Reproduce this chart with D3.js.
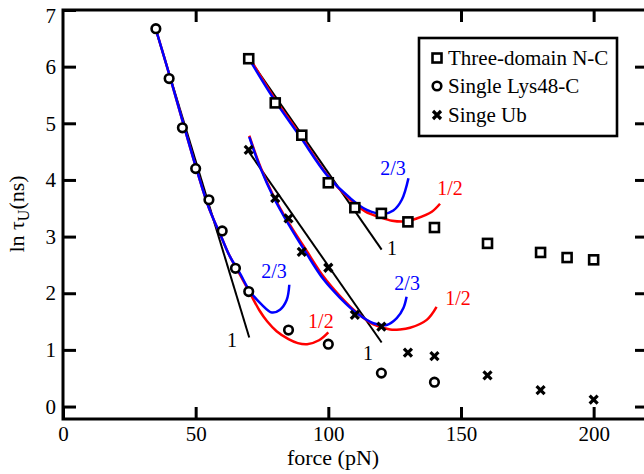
<!DOCTYPE html>
<html>
<head>
<meta charset="utf-8">
<script src="https://cdn.jsdelivr.net/npm/d3@7"></script>
<style>
    body { margin: 0; background: #fff; }
    svg { display: block; }
    svg text { font-family: "Liberation Serif", "Times New Roman", serif; }
</style>
</head>
<body>
<svg id="chart" width="644" height="474"></svg>
<script>
// measured points
var threeDomain = [[70, 6.14], [80, 5.36], [90, 4.79], [100, 3.95], [110, 3.51], [120, 3.41],
    [130, 3.26], [140, 3.16], [160, 2.88], [180, 2.72], [190, 2.63], [200, 2.59]];
var singleLys = [[35, 6.67], [40, 5.79], [45, 4.92], [50, 4.2], [55, 3.65], [60, 3.1],
    [65, 2.44], [70, 2.03], [85, 1.35], [100, 1.1], [120, 0.59], [140, 0.43]];
var singeUb = [[70, 4.53], [80, 3.68], [85, 3.32], [90, 2.73], [100, 2.45], [110, 1.62],
    [120, 1.41], [130, 0.95], [140, 0.89], [160, 0.55], [180, 0.29], [200, 0.12]];

// fitted curves
var lysFit1 = [[35, 6.65], [70.2, 1.22]];
var lysFit23 = [[35, 6.66], [40, 5.87], [45, 5.05], [50.4, 4.18], [54.8, 3.53], [59.8, 2.98],
    [62.9, 2.65], [66.7, 2.35], [70.5, 2.03], [74.9, 1.8], [78.7, 1.66], [81.8, 1.71],
    [84.3, 1.88], [85.3, 2.15]];
var lysFit12 = [[35, 6.66], [40, 5.87], [45, 5.05], [50.4, 4.18], [54.8, 3.53], [59.8, 2.98],
    [62.9, 2.65], [66.7, 2.33], [70.5, 2.0], [74, 1.7], [77, 1.5], [80.5, 1.33], [85, 1.19],
    [88.5, 1.12], [92, 1.1], [96.5, 1.17], [100, 1.31]];

var ndcFit1 = [[70, 6.15], [120.1, 2.77]];
var ndcFit23 = [[70.1, 6.14], [79.3, 5.44], [89.3, 4.77], [99.4, 4.09], [108.2, 3.68],
    [114.5, 3.47], [120.7, 3.4], [124.5, 3.46], [127.7, 3.65], [130.2, 4.03]];
var ndcFit12 = [[70, 6.18], [79.3, 5.47], [89.3, 4.8], [99.4, 4.1], [108, 3.66], [114, 3.44],
    [119.5, 3.34], [124, 3.28], [129.5, 3.27], [133.3, 3.32], [139, 3.44], [142.1, 3.58]];

var ubFit1 = [[70, 4.5], [120.1, 1.13]];
var ubFit23 = [[70.2, 4.76], [74.5, 4.2], [79.3, 3.7], [85.6, 3.17], [91.8, 2.7], [98.1, 2.25],
    [104.4, 1.92], [110.7, 1.65], [117, 1.47], [122, 1.44], [125.8, 1.56], [128.3, 1.74],
    [129.5, 1.94]];
var ubFit12 = [[70.2, 4.78], [74.5, 4.22], [79.3, 3.72], [85.6, 3.2], [91.8, 2.75], [98.1, 2.3],
    [104.4, 1.95], [110.7, 1.66], [117, 1.45], [123.3, 1.36], [127, 1.36], [130.8, 1.39],
    [137.1, 1.53], [140.8, 1.76]];

var fitLabels = [
    ["1", 63.7, 1.17], ["2/3", 79.5, 2.39], ["1/2", 97.2, 1.51],
    ["1", 124, 2.8], ["2/3", 124.4, 4.21], ["1/2", 145.9, 3.86],
    ["1", 115, 0.95], ["2/3", 129.7, 2.18], ["1/2", 148.9, 1.92]
];
var legendNames = ["Three-domain N-C", "Single Lys48-C", "Singe Ub"];
var xTicks = [0, 50, 100, 150, 200];
var yTicks = [0, 1, 2, 3, 4, 5, 6, 7];

var svg = d3.select("#chart");
var x = d3.scaleLinear().domain([0, 220]).range([63, 646.7]);
var y = d3.scaleLinear().domain([-0.22, 7]).range([419, 10]);

var line = d3.line()
    .x(function (d) { return x(d[0]); })
    .y(function (d) { return y(d[1]); })
    .curve(d3.curveCatmullRom);

var fits = [
    { d: lysFit1, c: "#000", w: 2 }, { d: ndcFit1, c: "#000", w: 2 }, { d: ubFit1, c: "#000", w: 2 },
    { d: lysFit12, c: "#ff0000", w: 2.5 }, { d: ndcFit12, c: "#ff0000", w: 2.5 }, { d: ubFit12, c: "#ff0000", w: 2.5 },
    { d: lysFit23, c: "#0000ff", w: 2.5 }, { d: ndcFit23, c: "#0000ff", w: 2.5 }, { d: ubFit23, c: "#0000ff", w: 2.5 }
];

svg.selectAll("path.fit")
    .data(fits)
    .enter()
    .append("path")
    .attr("class", "fit")
    .attr("d", function (f) { return line(f.d); })
    .attr("fill", "none")
    .attr("stroke", function (f) { return f.c; })
    .attr("stroke-width", function (f) { return f.w; });

svg.selectAll("text.fitlabel")
    .data(fitLabels)
    .enter()
    .append("text")
    .attr("class", "fitlabel")
    .attr("x", function (d) { return x(d[1]); })
    .attr("y", function (d) { return y(d[2]); })
    .attr("dy", "0.35em")
    .attr("text-anchor", "middle")
    .attr("font-size", 20)
    .attr("fill", function (d) { return d[0] == "1" ? "#000" : (d[0] == "2/3" ? "#0000ff" : "#ff0000"); })
    .text(function (d) { return d[0]; });

// markers
function square(g, cx, cy) {
    g.append("rect").attr("x", cx - 4.5).attr("y", cy - 4.5).attr("width", 9).attr("height", 9)
        .attr("fill", "#fff").attr("stroke", "#000").attr("stroke-width", 2.6);
}
function circle(g, cx, cy) {
    g.append("circle").attr("cx", cx).attr("cy", cy).attr("r", 4.3)
        .attr("fill", "#fff").attr("stroke", "#000").attr("stroke-width", 2.6);
}
function cross(g, cx, cy) {
    g.append("path").attr("d", "M" + (cx - 4) + "," + (cy - 4) + "L" + (cx + 4) + "," + (cy + 4) +
        "M" + (cx - 4) + "," + (cy + 4) + "L" + (cx + 4) + "," + (cy - 4))
        .attr("stroke", "#000").attr("stroke-width", 3.2).attr("fill", "none");
}

var marks = svg.append("g");
threeDomain.forEach(function (d) { square(marks, x(d[0]), y(d[1])); });
singleLys.forEach(function (d) { circle(marks, x(d[0]), y(d[1])); });
singeUb.forEach(function (d) { cross(marks, x(d[0]), y(d[1])); });

// frame and ticks
svg.append("rect")
    .attr("x", 63).attr("y", 10).attr("width", 600).attr("height", 409)
    .attr("fill", "none").attr("stroke", "#000").attr("stroke-width", 3);

function styleAxis(g) {
    g.select(".domain").remove();
    g.selectAll("line").attr("stroke-width", 3);
    g.selectAll("text").attr("font-size", 21).attr("fill", "#000")
        .style("font-family", "'Liberation Serif', serif");
}

svg.append("g").attr("transform", "translate(0,419)")
    .call(d3.axisBottom(x).tickValues(xTicks).tickSize(-12).tickPadding(7))
    .call(styleAxis);
svg.append("g").attr("transform", "translate(0,10)")
    .call(d3.axisTop(x).tickValues(xTicks.slice(1)).tickSize(-12).tickFormat(""))
    .call(styleAxis);
svg.append("g").attr("transform", "translate(63,0)")
    .call(d3.axisLeft(y).tickValues(yTicks).tickSize(-13).tickPadding(7))
    .call(styleAxis)
    .call(function (g) {
        // top label sits a little lower than its tick, as in the original
        g.selectAll(".tick text").filter(function (d) { return d == 7; }).attr("dy", "0.6em");
    });
svg.append("g").attr("transform", "translate(648,0)")
    .call(d3.axisRight(y).tickValues(yTicks.slice(0, 7)).tickSize(-13).tickFormat(""))
    .call(styleAxis);

svg.append("text")
    .attr("x", 333).attr("y", 465)
    .attr("text-anchor", "middle")
    .attr("font-size", 22)
    .text("force (pN)");

var ylab = svg.append("text")
    .attr("transform", "translate(24,214) rotate(-90)")
    .attr("text-anchor", "middle")
    .attr("font-size", 22);
ylab.append("tspan").text("ln τ");
ylab.append("tspan").attr("font-size", 16).attr("dy", 5).text("U");
ylab.append("tspan").attr("dy", -5).text("(ns)");

// legend
var leg = svg.append("g");
leg.append("rect")
    .attr("x", 419).attr("y", 38).attr("width", 198).attr("height", 98)
    .attr("fill", "#fff").attr("stroke", "#000").attr("stroke-width", 2.6);
var legY = [58, 86, 115];
square(leg, 437, legY[0]);
circle(leg, 437, legY[1]);
cross(leg, 437, legY[2]);
leg.selectAll("text")
    .data(legendNames)
    .enter()
    .append("text")
    .attr("x", 448)
    .attr("y", function (d, i) { return legY[i] + 7; })
    .attr("font-size", 21)
    .text(function (d) { return d; });
</script>
</body>
</html>
